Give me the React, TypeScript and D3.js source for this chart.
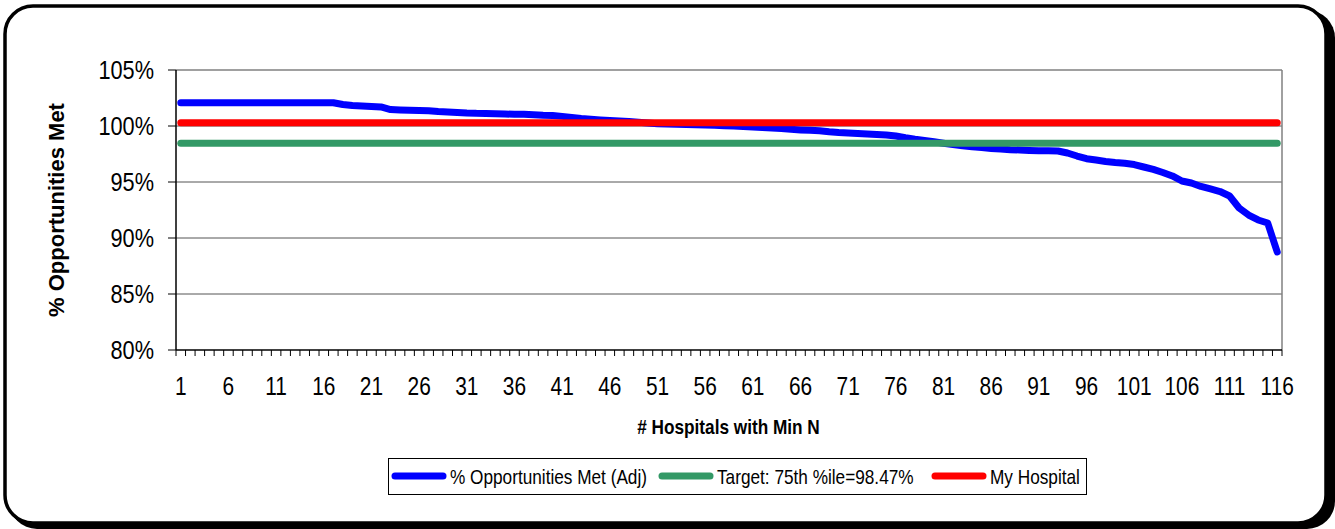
import React from "react";
import * as d3 from "d3";

// hospitals 1..116, sorted by score
const hospitals: number[] = d3.range(1, 117);

const pctMet: number[] = [
  102.08, 102.08, 102.08, 102.08, 102.08, 102.08, 102.08, 102.08, 102.08, 102.08,
  102.08, 102.08, 102.08, 102.08, 102.08, 102.08, 102.08, 101.92, 101.83, 101.79,
  101.74, 101.70, 101.47, 101.43, 101.40, 101.38, 101.36, 101.29, 101.25, 101.21,
  101.16, 101.13, 101.12, 101.10, 101.07, 101.05, 101.04, 101.00, 100.96, 100.94,
  100.86, 100.76, 100.67, 100.60, 100.54, 100.49, 100.45, 100.40, 100.33, 100.27,
  100.21, 100.18, 100.16, 100.13, 100.11, 100.09, 100.06, 100.03, 100.00, 99.96,
  99.91, 99.87, 99.82, 99.78, 99.70, 99.65, 99.61, 99.57, 99.48, 99.42,
  99.38, 99.33, 99.29, 99.24, 99.20, 99.11, 98.95, 98.81, 98.70, 98.59,
  98.46, 98.34, 98.23, 98.14, 98.07, 98.00, 97.94, 97.89, 97.86, 97.82,
  97.79, 97.78, 97.77, 97.59, 97.32, 97.08, 96.96, 96.83, 96.74, 96.67,
  96.56, 96.34, 96.12, 95.85, 95.54, 95.09, 94.91, 94.60, 94.38, 94.15,
  93.75, 92.68, 92.05, 91.61, 91.34, 88.75,
];

const target = 98.47;
const myHospital = 100.3;

const yTicks = [80, 85, 90, 95, 100, 105];
const gridTicks = [85, 90, 95, 100];
const xTickLabels = [1, 6, 11, 16, 21, 26, 31, 36, 41, 46, 51, 56, 61, 66, 71, 76, 81, 86, 91, 96, 101, 106, 111, 116];

const legendItems = [
  { label: "% Opportunities Met (Adj)", color: "#0000ff" },
  { label: "Target: 75th %ile=98.47%", color: "#339966" },
  { label: "My Hospital", color: "#ff0000" },
];

const W = 1335, H = 529;
const plot = { left: 176, right: 1282, top: 70, bottom: 350 };
const font = "'Liberation Sans', Arial, sans-serif";

// condensed look of the original (Arial Narrow style)
const NText = ({ x, y, anchor = "start", size, bold = false, children }: any) => (
  <text
    transform={`translate(${x},${y}) scale(0.82,1)`}
    textAnchor={anchor}
    fontSize={size}
    fontWeight={bold ? "bold" : "normal"}
    fontFamily={font}
    fill="#000"
  >
    {children}
  </text>
);

export default function App() {
  const x = d3.scaleBand<number>().domain(hospitals).range([plot.left, plot.right]);
  const y = d3.scaleLinear().domain([80, 105]).range([plot.bottom, plot.top]);
  const cx = (d: number) => (x(d) as number) + x.bandwidth() / 2;

  const line = d3.line<number>().x((d, i) => cx(hospitals[i])).y(d => y(d));
  const flat = (v: number) => line(hospitals.map(() => v)) as string;

  // legend geometry
  const lg = { x: 388.5, y: 458.5, w: 698, h: 36 };
  const itemX = [395, 662, 935];

  return (
    <svg width={W} height={H} style={{ position: "absolute", left: 0, top: 0, background: "#fff" }}>
      {/* frame with shadow */}
      <rect x={9} y={10} width={1326} height={519} rx={28} fill="#000" />
      <rect x={5} y={6} width={1321} height={517} rx={28} fill="#fff" stroke="#000" strokeWidth={3.5} />

      {/* gridlines */}
      {gridTicks.map(t => (
        <line key={t} x1={plot.left} x2={plot.right} y1={y(t)} y2={y(t)} stroke="#555" strokeWidth={1} />
      ))}
      <line x1={plot.left} x2={plot.right} y1={plot.top} y2={plot.top} stroke="#808080" strokeWidth={1.5} />
      <line x1={plot.right} x2={plot.right} y1={plot.top} y2={plot.bottom} stroke="#808080" strokeWidth={1.5} />

      {/* axes */}
      <line x1={plot.left} x2={plot.left} y1={plot.top} y2={plot.bottom} stroke="#000" strokeWidth={1.5} />
      <line x1={plot.left} x2={plot.right} y1={plot.bottom} y2={plot.bottom} stroke="#000" strokeWidth={1.5} />
      {yTicks.map(t => (
        <g key={t}>
          <line x1={plot.left - 8} x2={plot.left} y1={y(t)} y2={y(t)} stroke="#000" strokeWidth={1} />
          <NText x={154} y={y(t) + 9} anchor="end" size={26.5}>{t}%</NText>
        </g>
      ))}
      {hospitals.concat([117]).map(h => {
        const tx = h === 117 ? plot.right : (x(h) as number);
        return <line key={h} x1={tx} x2={tx} y1={plot.bottom} y2={plot.bottom + 6} stroke="#000" strokeWidth={1} />;
      })}
      {xTickLabels.map(t => (
        <NText key={t} x={cx(t)} y={395} anchor="middle" size={25.5}>{t}</NText>
      ))}

      {/* titles */}
      <text
        transform={`translate(64,210) rotate(-90)`}
        textAnchor="middle"
        fontSize={22}
        fontWeight="bold"
        fontFamily={font}
      >
        % Opportunities Met
      </text>
      <NText x={728.5} y={434} anchor="middle" size={21} bold>
        # Hospitals with Min N
      </NText>

      {/* series */}
      <path d={line(pctMet) as string} fill="none" stroke="#0000ff" strokeWidth={7} strokeLinejoin="round" strokeLinecap="round" />
      <path d={flat(target)} fill="none" stroke="#339966" strokeWidth={7} strokeLinecap="round" />
      <path d={flat(myHospital)} fill="none" stroke="#ff0000" strokeWidth={7} strokeLinecap="round" />

      {/* legend */}
      <rect x={lg.x} y={lg.y} width={lg.w} height={lg.h} fill="#fff" stroke="#000" strokeWidth={1} />
      {legendItems.map((d, i) => (
        <g key={d.label}>
          <line x1={itemX[i]} x2={itemX[i] + 48} y1={476} y2={476} stroke={d.color} strokeWidth={7} strokeLinecap="round" />
          <NText x={itemX[i] + 55} y={483.5} size={21}>{d.label}</NText>
        </g>
      ))}
    </svg>
  );
}
